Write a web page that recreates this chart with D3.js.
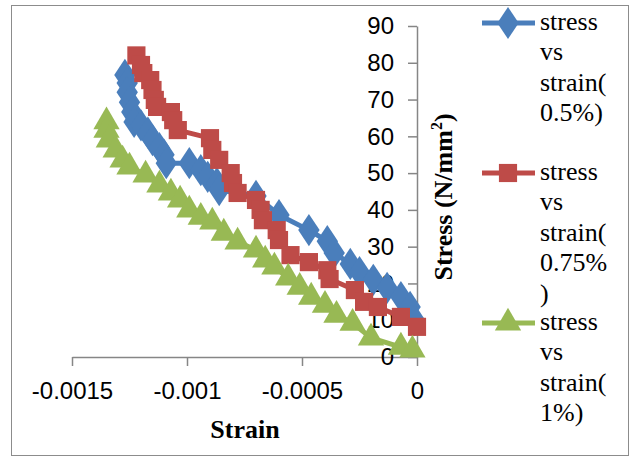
<!DOCTYPE html>
<html>
<head>
<meta charset="utf-8">
<script src="https://cdn.jsdelivr.net/npm/d3@7/dist/d3.min.js"></script>
<style>
html,body{margin:0;padding:0;background:#fff;}
svg{display:block;}
</style>
</head>
<body>
<svg id="chart" width="634" height="457"></svg>
<script>
// ---- data ----
const strain05 = [-0.00127,-0.00126,-0.00126,-0.00125,-0.00124,-0.00123,-0.00120,-0.00117,-0.00115,-0.00112,-0.00110,-0.00109,-0.00099,-0.00094,-0.00091,-0.00087,-0.00086,-0.00070,-0.00060,-0.00047,-0.00039,-0.00036,-0.00029,-0.00025,-0.00019,-0.00013,-0.00007,-0.00003,-0.00001];
const stress05 = [76.7,74.5,72,69.3,66.6,63.9,63,61,59,56.8,55,52.7,52.7,50.8,49,47.3,45.4,43.8,38.6,34.5,31.5,28.3,25.3,23.1,21,18.8,16.3,13.6,10];

const strain075 = [-0.00122,-0.00120,-0.00119,-0.00116,-0.00115,-0.00114,-0.00113,-0.00107,-0.00106,-0.00104,-0.00090,-0.00089,-0.00086,-0.00081,-0.00080,-0.00078,-0.00070,-0.00068,-0.00067,-0.00061,-0.00060,-0.00055,-0.00047,-0.00039,-0.00038,-0.00027,-0.00023,-0.00017,-0.00007,0.0];
const stress075 = [82,79.4,77.2,75.3,72.6,69.9,68,66.6,64.4,61.7,59.5,56.3,53.6,50,47.3,44.6,42.7,40,37.2,34.5,31.8,27.7,25.8,23.6,21.2,18.2,15,13.6,10.9,8.2];

const strain1 = [-0.00135,-0.00135,-0.00134,-0.00131,-0.00128,-0.00125,-0.00118,-0.00112,-0.00107,-0.00103,-0.00099,-0.00094,-0.00089,-0.00084,-0.00078,-0.00070,-0.00066,-0.00062,-0.00056,-0.00051,-0.00046,-0.00040,-0.00035,-0.00028,-0.00020,-0.00007,-0.00002];
const stress1 = [64,61.7,59,56.3,53.6,51.7,49.5,46.8,44.6,42.7,40,38,36.7,33.7,31.3,29.1,26.4,24.5,21.5,19,16.3,14.1,11.4,9.2,5.2,2.7,1.9];

const seriesNames = [["stress","vs","strain(","0.5%)"],["stress","vs","strain(","0.75%",")"],["stress","vs","strain(","1%)"]];
const xTickValues = [-0.0015,-0.001,-0.0005,0];
const xTickLabels = ["-0.0015","-0.001","-0.0005","0"];
const yTickValues = [0,10,20,30,40,50,60,70,80,90];
const xTitle = "Strain";
const yTitle = "Stress (N/mm";

// ---- layout ----
const svg = d3.select("#chart");
const x = d3.scaleLinear().domain([-0.0015, 0]).range([72, 417]);
const y = d3.scaleLinear().domain([0, 90]).range([357, 26]);

const colors = ["#4a7ebb", "#be4b48", "#98b954"];
const tickFont = "'Liberation Sans', Arial, sans-serif";
const serif = "'Liberation Serif', 'Times New Roman', serif";

// outer frame
svg.append("rect").attr("x",11.5).attr("y",5.5).attr("width",617).attr("height",450)
  .attr("fill","#fff").attr("stroke","#8c8c8c").attr("stroke-width",1);

// x axis
const xAxis = d3.axisBottom(x).tickValues(xTickValues)
  .tickFormat((d,i)=>xTickLabels[i]).tickSize(9).tickPadding(16).tickSizeOuter(0);
const gx = svg.append("g").attr("transform","translate(0,357)").call(xAxis);
gx.select(".domain").attr("stroke","#868686").attr("stroke-width",1.5);
gx.selectAll(".tick line").attr("stroke","#868686").attr("stroke-width",1.5);
gx.selectAll(".tick text").attr("font-family",tickFont).attr("font-size",24).attr("fill","#000");

// y axis
const yAxis = d3.axisLeft(y).tickValues(yTickValues).tickSize(9).tickPadding(14).tickSizeOuter(0);
const gy = svg.append("g").attr("transform","translate(417,0)").call(yAxis);
gy.select(".domain").attr("stroke","#868686").attr("stroke-width",1.5);
gy.selectAll(".tick line").attr("stroke","#868686").attr("stroke-width",1.5);
gy.selectAll(".tick text").attr("font-family",tickFont).attr("font-size",24).attr("fill","#000");

// titles
svg.append("text").attr("x",245).attr("y",438).attr("text-anchor","middle")
  .attr("font-family",serif).attr("font-weight","bold").attr("font-size",26).text(xTitle);
const yt = svg.append("text").attr("transform","translate(452,197) rotate(-90)").attr("text-anchor","middle")
  .attr("font-family",serif).attr("font-weight","bold").attr("font-size",26);
yt.append("tspan").text(yTitle);
yt.append("tspan").attr("font-size",16).attr("dy",-10).text("2");
yt.append("tspan").attr("dy",10).text(")");

// markers
const markerSize = [300, 330, 300];
const symbols = [d3.symbolDiamond, d3.symbolSquare, d3.symbolTriangle];
function drawMarker(g, cx, cy, i, scale){
  const s = markerSize[i]*(scale||1);
  const sym = d3.symbol().type(symbols[i]).size(s);
  let t = `translate(${cx},${cy})`;
  if(i===0) t += " scale(1.15,1)";
  g.append("path").attr("d", sym()).attr("transform", t).attr("fill", colors[i]);
}

const all = [[strain05,stress05],[strain075,stress075],[strain1,stress1]];
const line = d3.line().x(d=>x(d[0])).y(d=>y(d[1]));
all.forEach(([xs,ys],i)=>{
  const pts = xs.map((v,k)=>[v, ys[k]]);
  const g = svg.append("g");
  g.append("path").attr("d", line(pts)).attr("fill","none").attr("stroke",colors[i])
    .attr("stroke-width",5).attr("stroke-linejoin","round");
  pts.forEach(p=>drawMarker(g, x(p[0]), y(p[1]), i));
});

// legend
const legendMarkerY = [23, 173, 323];
const legendBase = [30, 180, 330];
seriesNames.forEach((lines,i)=>{
  const g = svg.append("g");
  g.append("line").attr("x1",482).attr("x2",535).attr("y1",legendMarkerY[i]).attr("y2",legendMarkerY[i])
    .attr("stroke",colors[i]).attr("stroke-width",5);
  drawMarker(g, 508, legendMarkerY[i], i);
  lines.forEach((t,k)=>{
    g.append("text").attr("x",540).attr("y",legendBase[i]+k*30.4)
      .attr("font-family",serif).attr("font-size",26).attr("fill","#000").text(t);
  });
});
</script>
</body>
</html>
